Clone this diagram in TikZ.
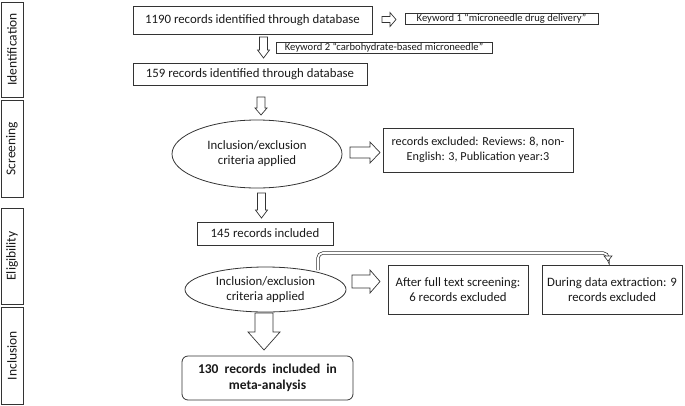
\documentclass[tikz,border=0pt]{standalone}
\usepackage{fontspec}
\setmainfont{Carlito}
\usetikzlibrary{shapes.geometric,calc}
\newcommand{\DArr}[6]{\draw[barrow] (#1-#4,#2) -- (#1+#4,#2) -- (#1+#4,#2+#3-#6) -- (#1+#5,#2+#3-#6) -- (#1,#2+#3) -- (#1-#5,#2+#3-#6) -- (#1-#4,#2+#3-#6) -- cycle;}
\newcommand{\RArr}[6]{\draw[barrow] (#2,#1-#4) -- (#2,#1+#4) -- (#2+#3-#6,#1+#4) -- (#2+#3-#6,#1+#5) -- (#2+#3,#1) -- (#2+#3-#6,#1-#5) -- (#2+#3-#6,#1-#4) -- cycle;}
\begin{document}
\begin{tikzpicture}[x=1pt,y=-1pt,line width=0.8pt,
  every node/.style={text=black!90},
  box/.style={draw=black!80, rectangle, inner sep=0pt, align=center, font=\fontsize{12.8}{15}\selectfont},
  kw/.style={draw=black!80, rectangle, inner sep=0pt, font=\fontsize{10.6}{11}\selectfont},
  ell/.style={draw=black!80, ellipse, inner sep=0pt, align=center, font=\fontsize{12.8}{15}\selectfont},
  stage/.style={draw=black!80, rectangle, rotate=90, inner sep=0pt, minimum height=22pt, font=\fontsize{13.5}{14}\selectfont},
  barrow/.style={draw=black!80, fill=white, line width=0.7pt},
]
\useasboundingbox (0,0) rectangle (685,405);

% stage labels
\node[stage, minimum width=95pt] (sid) at (12,49.5) {Identification};
\node[stage, minimum width=97pt] (sscr) at (12,148.5) {Screening};
\node[stage, minimum width=96pt] (sel) at (12,256) {Eligibility};
\node[stage, minimum width=97pt] (sinc) at (12,355.5) {Inclusion};

% boxes
\node[box, minimum width=239pt, minimum height=28pt] (b1) at (252.5,20) {1190 records identified through database};
\node[kw, minimum width=193pt, minimum height=11pt] (k1) at (501.5,18.5) {Keyword 1 “microneedle drug delivery”};
\node[kw, minimum width=216pt, minimum height=11pt] (k2) at (384,47.5) {Keyword 2 “carbohydrate-based microneedle”};
\node[box, minimum width=234pt, minimum height=22pt] (b2) at (250,74) {159 records identified through database};
\node[ell, minimum width=170pt, minimum height=68pt] (e1) at (257,154) {Inclusion/exclusion\\criteria applied};
\node[box, minimum width=190pt, minimum height=44pt, font=\fontsize{12.2}{15}\selectfont] (ex) at (478,150) {records excluded: Reviews: 8, non-\\English: 3, Publication year:3};
\node[box, minimum width=136pt, minimum height=23pt] (b3) at (265,233.5) {145 records included};
\node[ell, minimum width=161pt, minimum height=45pt] (e2) at (265.5,289.5) {Inclusion/exclusion\\criteria applied};
\node[box, minimum width=140pt, minimum height=49pt] (aft) at (458,289.5) {After full text screening:\\6 records excluded};
\node[box, minimum width=140pt, minimum height=49pt] (dde) at (612,289.5) {During data extraction: 9\\records excluded};
\node[box, rounded corners=6pt, minimum width=171pt, minimum height=44pt, font=\fontsize{13.5}{16}\selectfont\bfseries] (fin) at (267.5,378) {\spaceskip=0.45em\relax 130 records included in\\meta-analysis};

% block arrows
\RArr{19.5}{382}{14}{3}{7}{6}
\DArr{263.5}{37}{21}{4}{6}{8}
\DArr{261}{97}{18}{4}{6}{7}
\RArr{152.5}{350}{30}{5.5}{10.5}{10}
\DArr{261.5}{193}{25}{4}{6}{8}
\RArr{281.5}{352}{28}{6.5}{11.5}{10}
\DArr{264}{313}{37}{9}{16}{18}

% double-line connector to data extraction
\coordinate (c0) at (318,270);
\coordinate (c1) at (608,256);
\draw[draw=black!80, line width=0.7pt, double=white, double distance=1.8pt, rounded corners=5pt] (c0) |- (608,253) -- (c1);
\draw[barrow, line width=0.6pt] (604,256) -- (612,256) -- (608,261) -- cycle;
\end{tikzpicture}
\end{document}
